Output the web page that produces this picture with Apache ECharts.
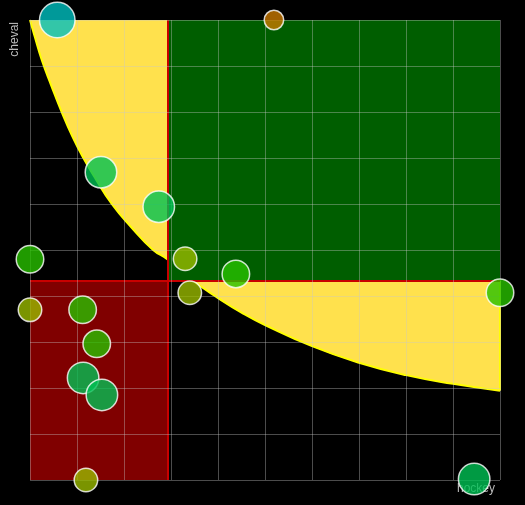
<!DOCTYPE html>
<html><head><meta charset="utf-8">
<script src="https://cdn.jsdelivr.net/npm/echarts@6/dist/echarts.min.js"></script>
<style>html,body{margin:0;padding:0;background:#000}#c{width:525px;height:505px}</style>
</head><body><div id="c"></div>
<script>
// ---- data ----
const xName = 'hockey';
const yName = 'cheval';
const xValues = [0.58, 5.19, 1.51, 2.74, 0, 3.30, 4.38, 3.40, 10, 0, 1.12, 1.42, 1.13, 1.53, 1.19, 9.45];
const yValues = [10, 10, 6.69, 5.94, 4.80, 4.81, 4.48, 4.07, 4.07, 3.70, 3.70, 2.96, 2.22, 1.85, 0, 0.02];
const levels  = [5, 1, 4, 4, 3, 2, 3, 2, 3, 2, 3, 3, 4, 4, 2, 4];
// boundary curve of the yellow zone
const curveX = [0, 0.1, 0.25, 0.45, 0.67, 0.9, 1.13, 1.4, 1.74, 2.15, 2.62, 2.92, 3.47, 4.01, 4.5, 5.0, 6.0, 7.0, 8.0, 9.0, 10];
const curveY = [10, 9.64, 9.13, 8.58, 8.01, 7.47, 7.01, 6.54, 6.0, 5.5, 5.0, 4.80, 4.33, 3.95, 3.64, 3.37, 2.91, 2.55, 2.28, 2.09, 1.94];
const axisMin = 0, axisMax = 10, axisStep = 1;

const mean = a => a.reduce((s, v) => s + v, 0) / a.length;
const meanX = mean(xValues), meanY = mean(yValues);
const last = curveX.length - 1;

const chart = echarts.init(document.getElementById('c'));
const gridLine = { show: true, lineStyle: { color: 'rgba(200,200,200,0.38)', width: 1 } };
chart.setOption({
  backgroundColor: '#000',
  animation: false,
  grid: { left: 30, top: 20, right: 25, bottom: 25, containLabel: false, outerBoundsMode: 'none' },
  xAxis: {
    type: 'value', min: axisMin, max: axisMax, interval: axisStep, z: 2,
    name: xName, nameLocation: 'end', nameGap: -5,
    nameTextStyle: { color: '#bbb', fontSize: 12, align: 'right', verticalAlign: 'top', padding: [3, 0, 0, 0] },
    axisLine: { show: false }, axisTick: { show: false }, axisLabel: { show: false },
    splitLine: gridLine
  },
  yAxis: {
    type: 'value', min: axisMin, max: axisMax, interval: axisStep, z: 2,
    name: yName, nameLocation: 'end', nameGap: -2, nameRotate: 90,
    nameTextStyle: { color: '#bbb', fontSize: 12, align: 'right', verticalAlign: 'bottom', padding: [0, 0, 9, 0] },
    axisLine: { show: false }, axisTick: { show: false }, axisLabel: { show: false },
    splitLine: gridLine
  },
  visualMap: {
    type: 'continuous', show: false, dimension: 2, min: 1, max: 5, seriesIndex: 2,
    inRange: {
      color: ['#c87800', '#99b900', '#28c000', '#00c054', '#00bfbf'],
      symbolSize: [19.5, 35.5]
    }
  },
  series: [
    {
      // yellow zone: smoothed boundary, filled up to the top of the grid
      type: 'line', z: 0, silent: true, smooth: 0.5,
      symbol: 'none', clip: true,
      data: curveX.map((x, i) => [x, curveY[i]]),
      lineStyle: { color: '#ffff00', width: 2 },
      areaStyle: { color: '#ffe14d', opacity: 1, origin: 'end' }
    },
    {
      // right edge of the yellow zone (below the green quadrant)
      type: 'line', z: 0, silent: true, symbol: 'none', clip: true,
      data: [[curveX[last], curveY[last]], [axisMax, meanY]],
      lineStyle: { color: '#ffff00', width: 2 }
    },
    {
      type: 'scatter', z: 3,
      data: xValues.map((x, i) => [x, yValues[i], levels[i]]),
      itemStyle: { opacity: 0.8, borderColor: '#fff', borderWidth: 1.5 },
      markArea: {
        silent: true, z: 1,
        label: { show: false },
        data: [
          [{ coord: [meanX, meanY], itemStyle: { color: '#005e00' } }, { coord: [axisMax, axisMax] }],
          [{ coord: [axisMin, axisMin], itemStyle: { color: '#800000' } }, { coord: [meanX, meanY] }]
        ]
      },
      markLine: {
        silent: true, z: 1.5, symbol: ['none', 'none'],
        label: { show: false },
        lineStyle: { color: '#c80000', width: 2, type: 'solid' },
        data: [{ type: 'average', valueIndex: 0 }, { type: 'average', valueIndex: 1 }]
      }
    }
  ]
});
</script>
</body></html>
